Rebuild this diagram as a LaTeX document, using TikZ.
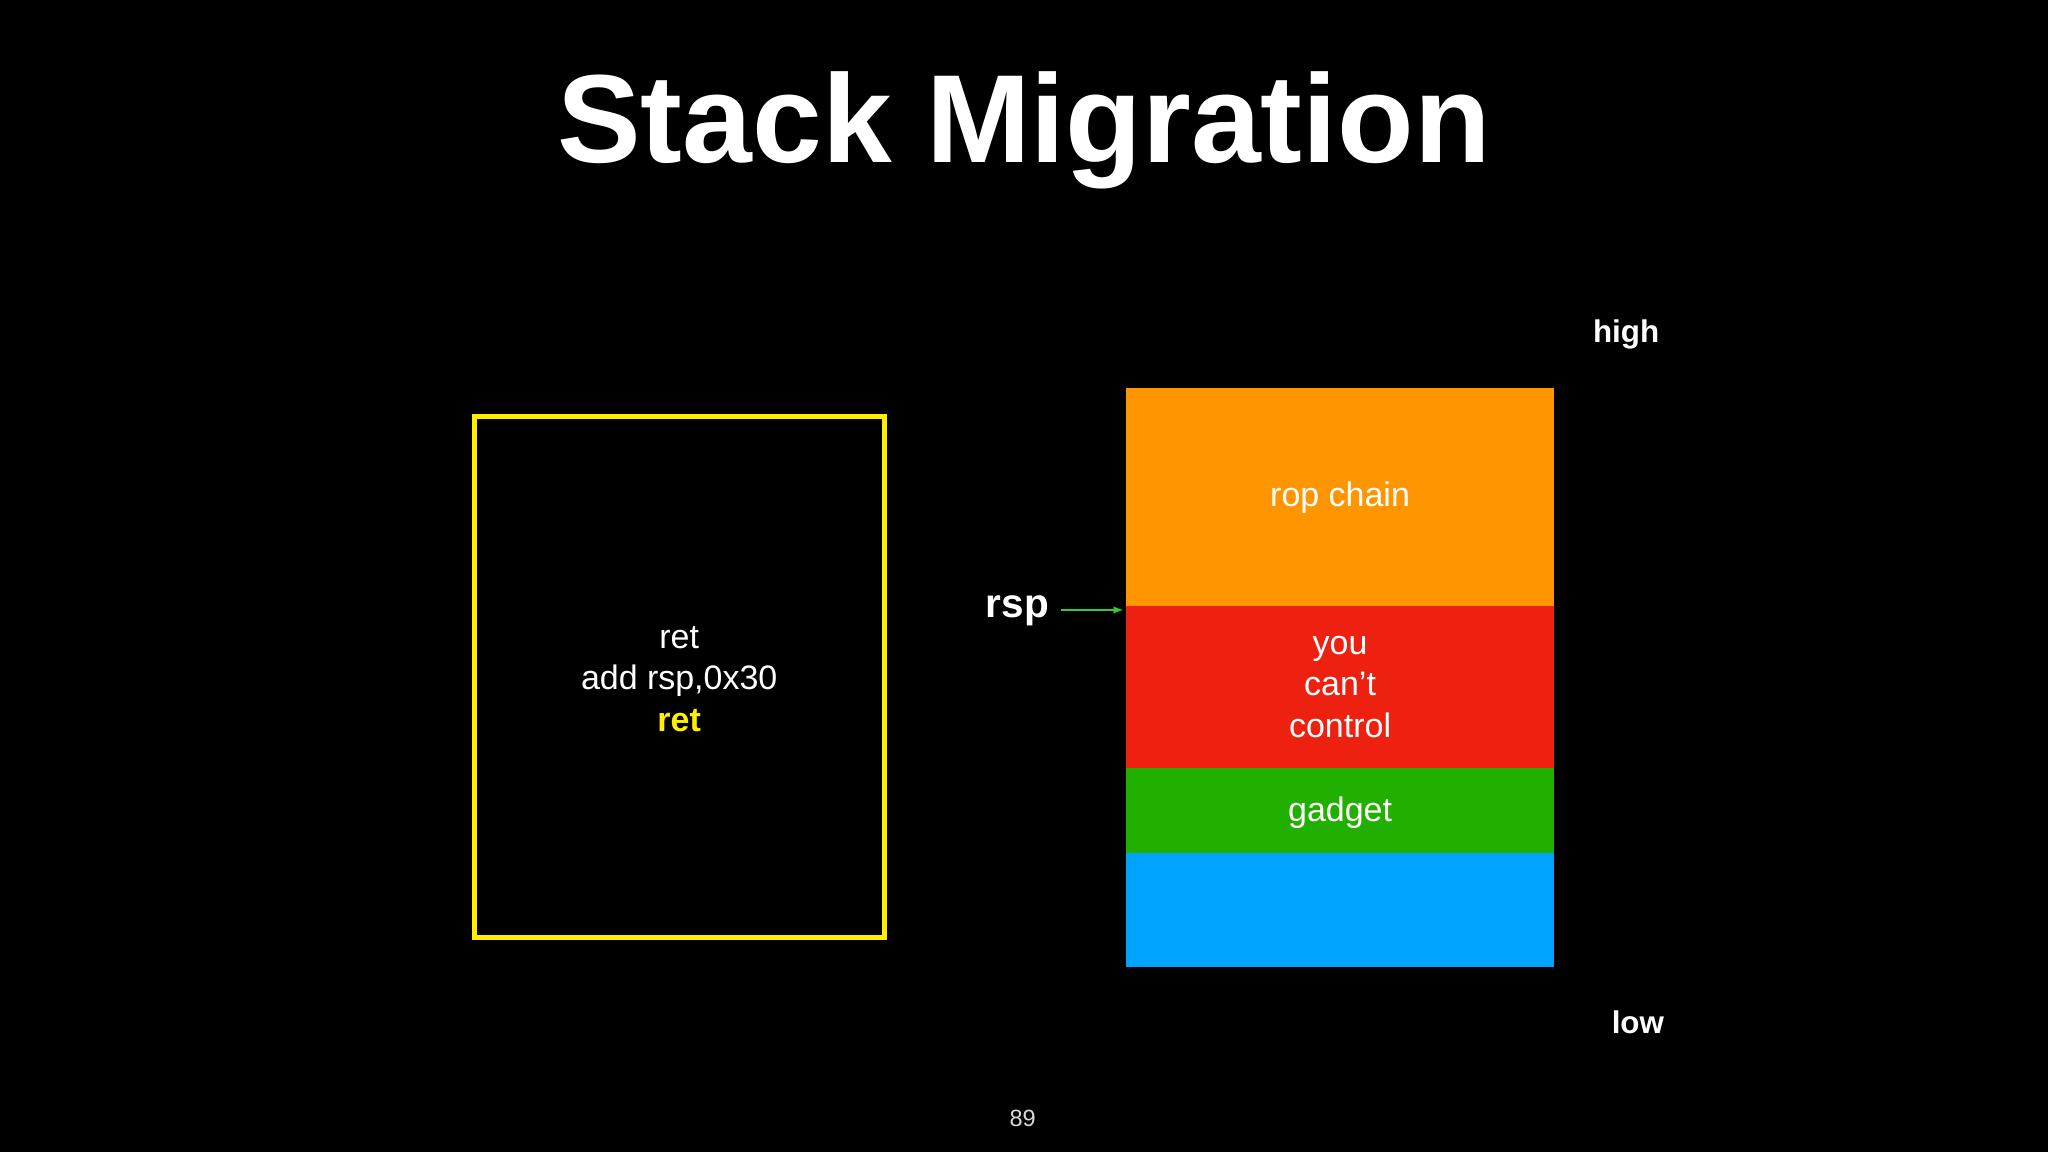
\documentclass[tikz,border=0pt]{standalone}
\usepackage{fontspec}
\setmainfont{Liberation Sans}
\definecolor{yel}{HTML}{FFEE00}
\definecolor{org}{HTML}{FF9500}
\definecolor{rd}{HTML}{EE2010}
\definecolor{gr}{HTML}{22B000}
\definecolor{bl}{HTML}{00A4FF}
\definecolor{ar}{HTML}{33CC33}
\begin{document}
\begin{tikzpicture}[x=1pt,y=-1pt,
  lbl/.style={text=white,font=\fontsize{26}{32}\selectfont,align=center},
  seg/.style={draw=none}]
\useasboundingbox[fill=black] (0,0) rectangle (1568,882);
\node[text=white,font=\fontsize{96}{110}\selectfont\bfseries] (title) at (784,100) {Stack Migration};
\draw[yel,line width=4] (363,319) rectangle (677,718);
\node[lbl] (code) at (520,520) {ret\\add rsp,0x30\\\textcolor{yel}{\textbf{ret}}};
\fill[org] (862,297) rectangle (1190,464);
\fill[rd] (862,464) rectangle (1190,588);
\fill[gr] (862,588) rectangle (1190,653);
\fill[bl] (862,653) rectangle (1190,740);
\node[lbl] (rop) at (1026,381) {rop chain};
\node[lbl] (ycc) at (1026,526) {you\\can’t\\control};
\node[lbl] (gad) at (1026,622) {gadget};
\node[text=white,font=\fontsize{31}{36}\selectfont\bfseries] (rsp) at (779,468) {rsp};
\coordinate (tip) at (860,467);
\draw[ar,line width=1.5,-latex] (rsp.east) ++(6,-1) -- (tip);
\node[text=white,font=\fontsize{24}{28}\selectfont\bfseries] (high) at (1245,256) {high};
\node[text=white,font=\fontsize{24}{28}\selectfont\bfseries] (low) at (1254,783) {low};
\node[text=white!85!black,font=\fontsize{18}{22}\selectfont] (pg) at (783,856) {89};
\end{tikzpicture}
\end{document}
